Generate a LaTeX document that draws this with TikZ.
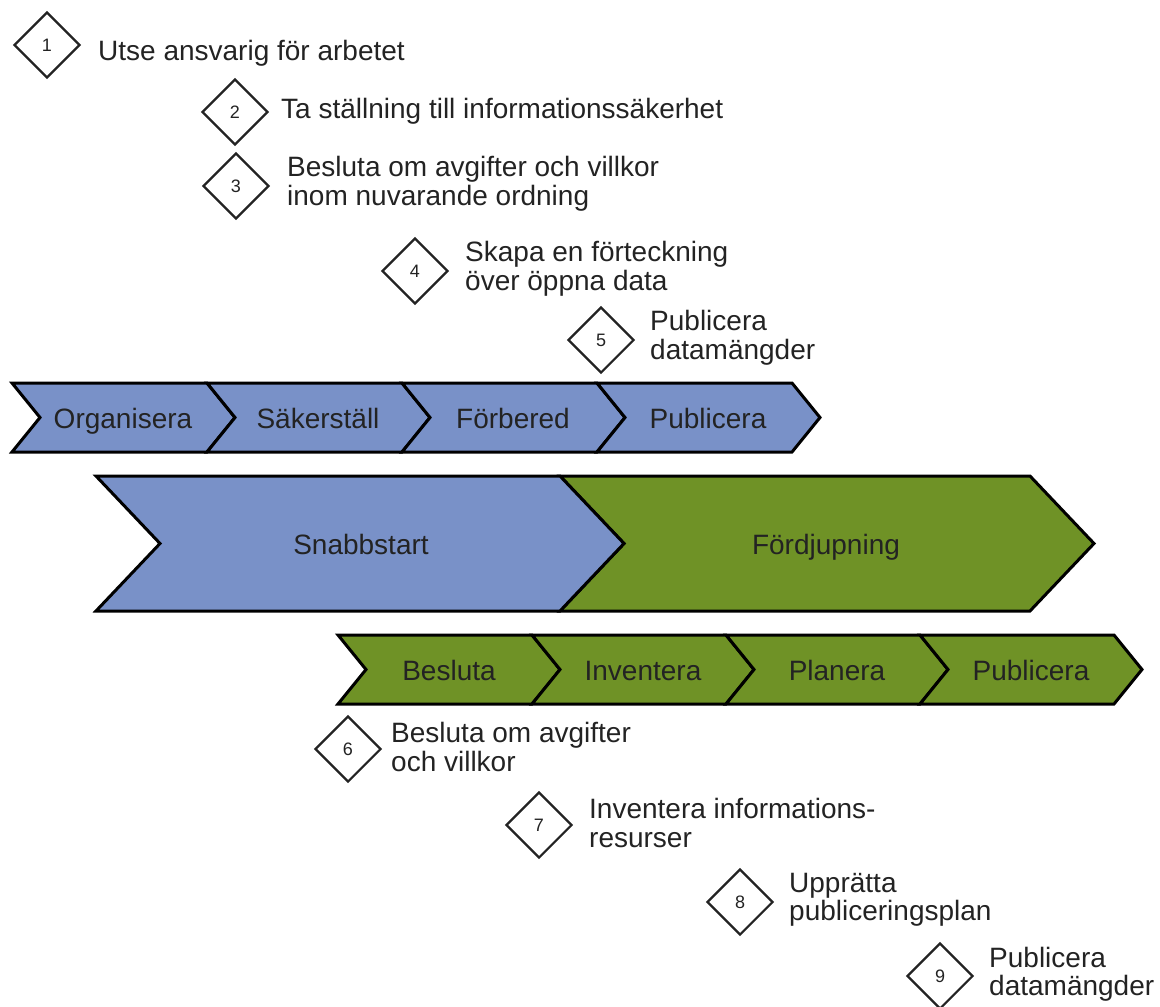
\documentclass[tikz,border=0pt]{standalone}
\usepackage{fontspec}
\setmainfont{Liberation Sans}
\usetikzlibrary{shapes.geometric}
\definecolor{cblue}{RGB}{121,145,200}
\definecolor{cgreen}{RGB}{111,146,38}
\definecolor{ctext}{RGB}{35,35,35}
\begin{document}
\begin{tikzpicture}[x=1pt,y=-1pt,
  dia/.style={diamond,draw=ctext,line width=2.2pt,fill=white,aspect=1,minimum size=66pt,inner sep=0pt,
    font=\fontsize{18}{18}\selectfont,text=ctext},
  lbl/.style={anchor=west,align=left,inner sep=0pt,text=ctext,font=\fontsize{28}{28.5}\selectfont},
  chevtext/.style={anchor=base,inner sep=0pt,text=ctext,font=\fontsize{28}{28}\selectfont},
  chev/.style={draw=black,line width=3pt,line join=miter}]
\useasboundingbox (0,0) rectangle (1160,1007);
% top row (Snabbstart steps)
\foreach \i/\t/\n in {0/Organisera/s1,1/Säkerställ/s2,2/Förbered/s3,3/Publicera/s4}{
  \pgfmathsetmacro{\xa}{12+195*\i}
  \draw[chev,fill=cblue] (\xa,383) -- ++(195,0) -- ++(28,34.5) -- ++(-28,34.5) -- ++(-195,0) -- ++(28,-34.5) -- cycle;
  \node[chevtext] (\n) at (\xa+111,428) {\t};
}
% big phases
\draw[chev,fill=cgreen] (560,476) -- (1030,476) -- (1094,543.5) -- (1030,611) -- (560,611) -- (624,543.5) -- cycle;
\draw[chev,fill=cblue] (96,476) -- (560,476) -- (624,543.5) -- (560,611) -- (96,611) -- (160,543.5) -- cycle;
\node[chevtext] (snabb) at (361,554) {Snabbstart};
\node[chevtext] (fordj) at (826,554) {Fördjupning};
% bottom row (Fördjupning steps)
\foreach \i/\t/\n in {0/Besluta/f1,1/Inventera/f2,2/Planera/f3,3/Publicera/f4}{
  \pgfmathsetmacro{\xa}{338+194*\i}
  \draw[chev,fill=cgreen] (\xa,635) -- ++(194,0) -- ++(28,34.5) -- ++(-28,34.5) -- ++(-194,0) -- ++(28,-34.5) -- cycle;
  \node[chevtext] (\n) at (\xa+111,680) {\t};
}
% numbered steps
\node[dia] (d1) at (47,45) {1};
\node[lbl,anchor=base west] (t1) at (98,60) {Utse ansvarig för arbetet};
\node[dia] (d2) at (235,112) {2};
\node[lbl] (t2) at (281,111) {Ta ställning till informationssäkerhet};
\node[dia] (d3) at (236,186) {3};
\node[lbl] (t3) at (287,184) {Besluta om avgifter och villkor\\inom nuvarande ordning};
\node[dia] (d4) at (415,271) {4};
\node[lbl] (t4) at (465,269) {Skapa en förteckning\\över öppna data};
\node[dia] (d5) at (601,340) {5};
\node[lbl] (t5) at (650,338) {Publicera\\datamängder};
\node[dia] (d6) at (348,749) {6};
\node[lbl] (t6) at (391,747) {Besluta om avgifter\\och villkor};
\node[dia] (d7) at (539,825) {7};
\node[lbl] (t7) at (589,823) {Inventera informations-\\resurser};
\node[dia] (d8) at (740,902) {8};
\node[lbl] (t8) at (789,900) {Upprätta\\publiceringsplan};
\node[dia] (d9) at (940,976) {9};
\node[lbl] (t9) at (989,974) {Publicera\\datamängder};
\end{tikzpicture}
\end{document}
